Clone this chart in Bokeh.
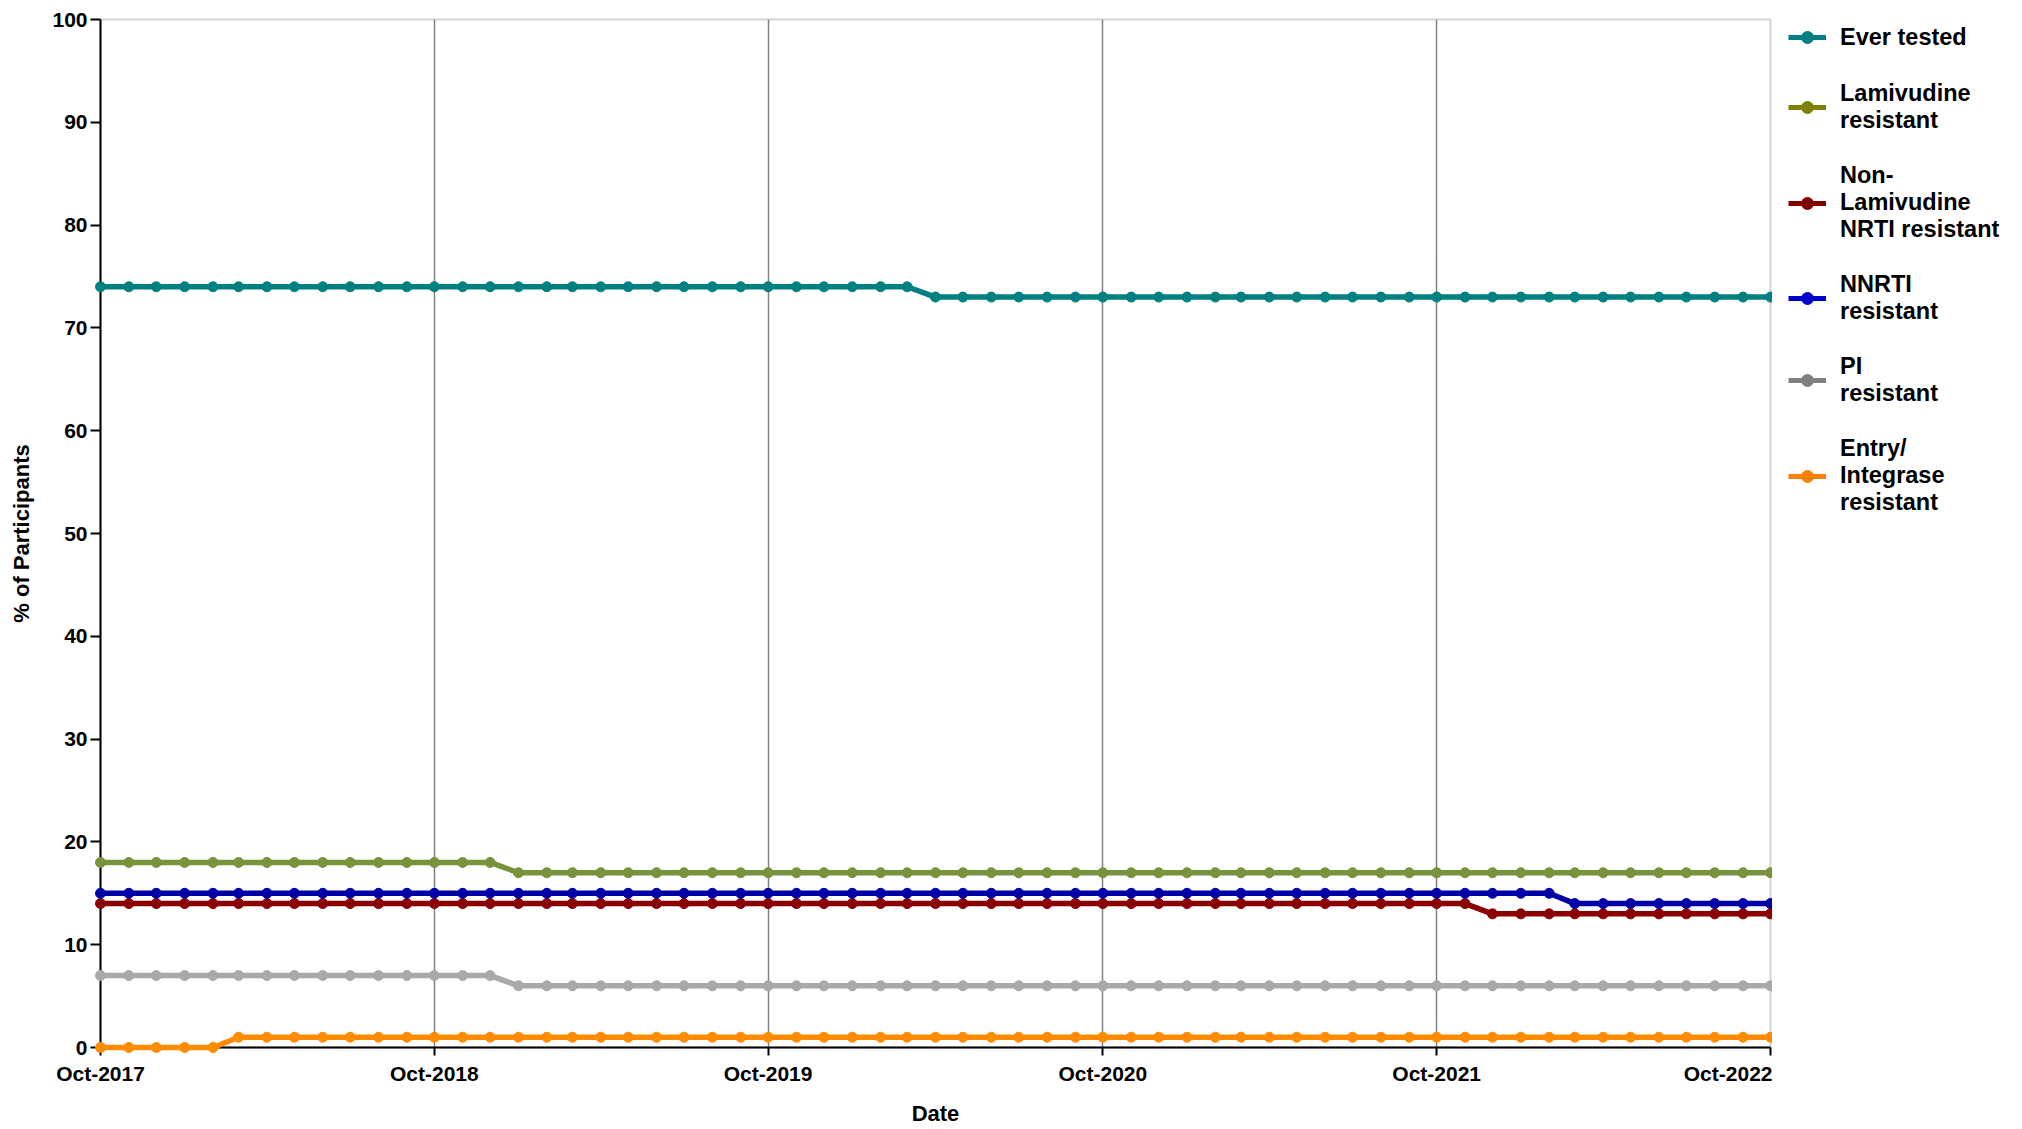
import pandas as pd
from bokeh.plotting import figure
from bokeh.layouts import row
from bokeh.models import Legend, LegendItem, DatetimeTickFormatter, FixedTicker, Range1d
from bokeh.embed import file_html
from bokeh.resources import INLINE

# ---- data (monthly, Oct-2017 .. Oct-2022) ----
dates = pd.date_range("2017-10-01", "2022-10-01", freq="MS")

ever_tested = [
    74, 74, 74, 74, 74, 74, 74, 74, 74, 74, 74, 74,
    74, 74, 74, 74, 74, 74, 74, 74, 74, 74, 74, 74,
    74, 74, 74, 74, 74, 74, 73, 73, 73, 73, 73, 73,
    73, 73, 73, 73, 73, 73, 73, 73, 73, 73, 73, 73,
    73, 73, 73, 73, 73, 73, 73, 73, 73, 73, 73, 73,
    73,
]
lamivudine = [
    18, 18, 18, 18, 18, 18, 18, 18, 18, 18, 18, 18,
    18, 18, 18, 17, 17, 17, 17, 17, 17, 17, 17, 17,
    17, 17, 17, 17, 17, 17, 17, 17, 17, 17, 17, 17,
    17, 17, 17, 17, 17, 17, 17, 17, 17, 17, 17, 17,
    17, 17, 17, 17, 17, 17, 17, 17, 17, 17, 17, 17,
    17,
]
non_lam_nrti = [
    14, 14, 14, 14, 14, 14, 14, 14, 14, 14, 14, 14,
    14, 14, 14, 14, 14, 14, 14, 14, 14, 14, 14, 14,
    14, 14, 14, 14, 14, 14, 14, 14, 14, 14, 14, 14,
    14, 14, 14, 14, 14, 14, 14, 14, 14, 14, 14, 14,
    14, 14, 13, 13, 13, 13, 13, 13, 13, 13, 13, 13,
    13,
]
nnrti = [
    15, 15, 15, 15, 15, 15, 15, 15, 15, 15, 15, 15,
    15, 15, 15, 15, 15, 15, 15, 15, 15, 15, 15, 15,
    15, 15, 15, 15, 15, 15, 15, 15, 15, 15, 15, 15,
    15, 15, 15, 15, 15, 15, 15, 15, 15, 15, 15, 15,
    15, 15, 15, 15, 15, 14, 14, 14, 14, 14, 14, 14,
    14,
]
pi = [
    7, 7, 7, 7, 7, 7, 7, 7, 7, 7, 7, 7,
    7, 7, 7, 6, 6, 6, 6, 6, 6, 6, 6, 6,
    6, 6, 6, 6, 6, 6, 6, 6, 6, 6, 6, 6,
    6, 6, 6, 6, 6, 6, 6, 6, 6, 6, 6, 6,
    6, 6, 6, 6, 6, 6, 6, 6, 6, 6, 6, 6,
    6,
]
entry_integrase = [
    0, 0, 0, 0, 0, 1, 1, 1, 1, 1, 1, 1,
    1, 1, 1, 1, 1, 1, 1, 1, 1, 1, 1, 1,
    1, 1, 1, 1, 1, 1, 1, 1, 1, 1, 1, 1,
    1, 1, 1, 1, 1, 1, 1, 1, 1, 1, 1, 1,
    1, 1, 1, 1, 1, 1, 1, 1, 1, 1, 1, 1,
    1,
]

series_labels = [
    "Ever tested",
    "Lamivudine\nresistant",
    "Non-\nLamivudine\nNRTI resistant",
    "NNRTI\nresistant",
    "PI\nresistant",
    "Entry/\nIntegrase\nresistant",
]
series_values = [ever_tested, lamivudine, non_lam_nrti, nnrti, pi, entry_integrase]
series_colors = ["#008080", "#77933C", "#8B0000", "#0000A8", "#A9A9A9", "#FF8C00"]
legend_colors = ["#008080", "#808000", "#800000", "#0000CD", "#808080", "#FF8000"]

tick_dates = pd.to_datetime(["2017-10-01", "2018-10-01", "2019-10-01",
                             "2020-10-01", "2021-10-01", "2022-10-01"])

FONT = "Liberation Sans"
H = 1128

p = figure(
    width=1772, height=H,
    x_axis_type="datetime",
    x_range=Range1d(dates[0], dates[-1]),
    y_range=Range1d(0, 100),
    output_backend="svg", toolbar_location=None,
    min_border_left=100, min_border_top=19, min_border_right=2, min_border_bottom=79,
    background_fill_color="white", border_fill_color="white",
)

for vals, col in zip(series_values, series_colors):
    p.line(dates, vals, line_width=5.5, color=col, level="overlay")
    p.scatter(dates, vals, size=10, color=col, level="overlay")

# axes
tick_ms = [t.value / 1e6 for t in tick_dates]
p.xaxis.ticker = FixedTicker(ticks=tick_ms)
fmt = "%b-%Y"
p.xaxis.formatter = DatetimeTickFormatter(
    milliseconds=fmt, seconds=fmt, minsec=fmt, minutes=fmt, hourmin=fmt,
    hours=fmt, days=fmt, months=fmt, years=fmt)
p.yaxis.ticker = FixedTicker(ticks=list(range(0, 101, 10)))

for ax in (p.xaxis[0], p.yaxis[0]):
    ax.axis_line_color = "black"
    ax.axis_line_width = 2
    ax.major_tick_line_color = "black"
    ax.major_tick_line_width = 2
    ax.major_tick_in = 0
    ax.minor_tick_line_color = None
    ax.major_label_text_font = FONT
    ax.major_label_text_font_style = "bold"
    ax.major_label_text_font_size = "21px"
    ax.major_label_text_color = "black"
    ax.axis_label_text_font = FONT
    ax.axis_label_text_font_style = "bold"
    ax.axis_label_text_font_size = "22px"
    ax.axis_label_text_color = "black"

p.xaxis.major_tick_out = 8
p.xaxis.major_label_standoff = 6
p.xaxis.axis_label = "Date"
p.xaxis.axis_label_standoff = 13

p.yaxis.major_tick_out = 10
p.yaxis.major_label_standoff = 3
p.yaxis.axis_label = "% of Participants"
p.yaxis.axis_label_standoff = 15

# grids
p.ygrid.grid_line_color = None
p.xgrid.ticker = FixedTicker(ticks=tick_ms[1:-1])
p.xgrid.grid_line_color = "#808080"
p.xgrid.grid_line_width = 1.5

p.outline_line_color = "#D3D3D3"
p.outline_line_width = 2

# ---- legend panel (separate narrow figure to the right) ----
pl = figure(
    width=238, height=H,
    x_range=Range1d(0, 1), y_range=Range1d(0, 1),
    output_backend="svg", toolbar_location=None,
    min_border=0, min_border_left=0, min_border_right=0,
    min_border_top=0, min_border_bottom=0,
    background_fill_color="white", border_fill_color="white",
)
pl.axis.visible = False
pl.grid.grid_line_color = None
pl.outline_line_color = None

items = []
nan = float("nan")
for lab, col in zip(series_labels, legend_colors):
    lr = pl.line([nan], [nan], line_width=5, color=col)
    sr = pl.scatter([nan], [nan], size=13, color=col)
    items.append(LegendItem(label=lab, renderers=[lr, sr]))

legend = Legend(
    items=items, location=(16, H - 597),
    margin=0, padding=17, spacing=28,
    glyph_width=38, glyph_height=30, label_standoff=14,
    label_text_font=FONT, label_text_font_style="bold",
    label_text_font_size="23.5px", label_text_line_height=1.2,
    label_text_color="black",
    border_line_color=None, background_fill_alpha=0,
)
pl.add_layout(legend)

layout = row(p, pl, spacing=0)
open("out.html", "w").write(file_html(layout, INLINE))
